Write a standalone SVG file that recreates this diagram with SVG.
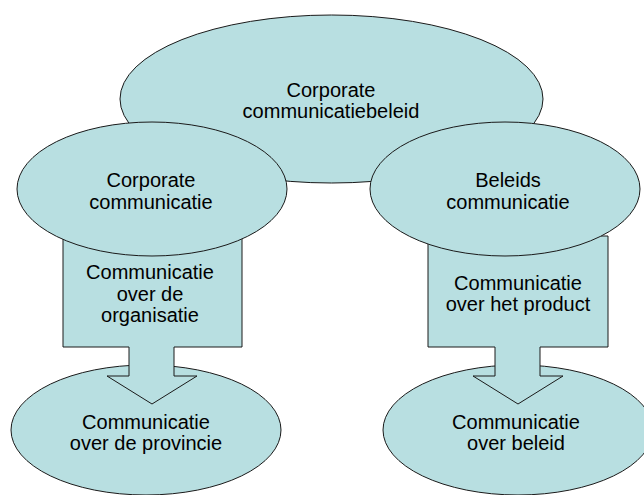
<svg xmlns="http://www.w3.org/2000/svg" width="644" height="495" viewBox="0 0 644 495">
<style>
  .shape { fill: #B8DFE1; stroke: #1a1a1a; stroke-width: 1; }
  .lbl { font-family: "Liberation Sans", Arial, sans-serif; font-size: 20px; fill: #000; text-anchor: middle; }
</style>
<rect width="644" height="495" fill="#ffffff"/>
<g id="node-top">
  <ellipse class="shape" cx="331.5" cy="99" rx="211.5" ry="84"/>
  <text class="lbl" x="331" y="97">Corporate</text>
  <text class="lbl" x="331" y="118">communicatiebeleid</text>
</g>
<g id="node-bottom-left">
  <ellipse class="shape" cx="146" cy="430" rx="135" ry="65"/>
  <text class="lbl" x="146" y="429">Communicatie</text>
  <text class="lbl" x="146" y="450">over de provincie</text>
</g>
<g id="node-bottom-right">
  <ellipse class="shape" cx="518" cy="430" rx="135" ry="65"/>
  <text class="lbl" x="516" y="429">Communicatie</text>
  <text class="lbl" x="516" y="450">over beleid</text>
</g>
<g id="connectors">
  <g id="arrow-left">
    <path class="shape" d="M63,236 H242 V347 H174 V376 H197 L152,404 L107,376 H129 V347 H63 Z"/>
    <text class="lbl" x="150" y="279">Communicatie</text>
    <text class="lbl" x="150" y="300.5">over de</text>
    <text class="lbl" x="150" y="322">organisatie</text>
  </g>
  <g id="arrow-right">
    <path class="shape" d="M428,236 H608 V347 H540 V376 H563 L518,404 L473,376 H495 V347 H428 Z"/>
    <text class="lbl" x="518" y="290">Communicatie</text>
    <text class="lbl" x="518" y="311">over het product</text>
  </g>
</g>
<g id="node-left">
  <ellipse class="shape" cx="152" cy="189" rx="135" ry="67"/>
  <text class="lbl" x="151" y="187">Corporate</text>
  <text class="lbl" x="151" y="209">communicatie</text>
</g>
<g id="node-right">
  <ellipse class="shape" cx="505" cy="189" rx="135" ry="67"/>
  <text class="lbl" x="508" y="187">Beleids</text>
  <text class="lbl" x="508" y="209">communicatie</text>
</g>
</svg>
